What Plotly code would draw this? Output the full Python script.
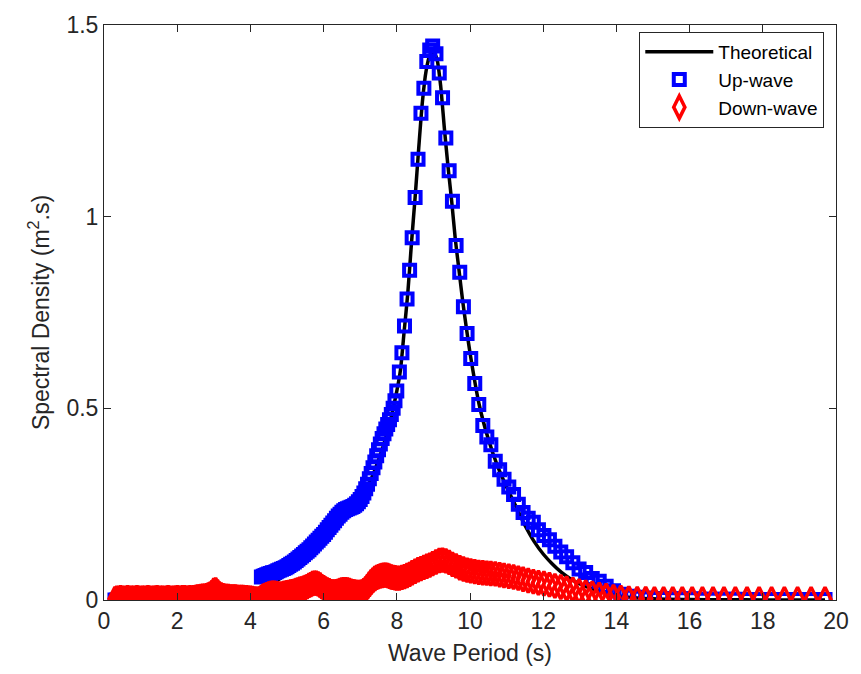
import plotly.graph_objects as go

# Wave period grid (s) shared by the two measured spectra
period_lo = [0.30, 0.35, 0.40, 0.45, 0.50, 0.55, 0.60, 0.65, 0.70, 0.75,
             0.80, 0.85, 0.90, 0.95, 1.00, 1.05, 1.10, 1.15, 1.20, 1.25,
             1.30, 1.35, 1.40, 1.45, 1.50, 1.55, 1.60, 1.65, 1.70, 1.75,
             1.80, 1.85, 1.90, 1.95, 2.00, 2.05, 2.10, 2.15, 2.20, 2.25,
             2.30, 2.35, 2.40, 2.45, 2.50, 2.55, 2.60, 2.65, 2.70, 2.75,
             2.80, 2.85, 2.90, 2.95, 3.00, 3.05, 3.10, 3.15, 3.20, 3.25,
             3.30, 3.35, 3.40, 3.45, 3.50, 3.55, 3.60, 3.65, 3.70, 3.75,
             3.80, 3.85, 3.90, 3.95, 4.00, 4.05, 4.10, 4.15, 4.20, 4.25,
             4.30, 4.35, 4.40, 4.45, 4.50, 4.55, 4.60, 4.65, 4.70, 4.75,
             4.80, 4.85, 4.90, 4.95, 5.00, 5.05, 5.10, 5.15, 5.20, 5.25,
             5.30, 5.35, 5.40, 5.45, 5.50, 5.55, 5.60, 5.65, 5.70, 5.75,
             5.80, 5.85, 5.90, 5.95, 6.00, 6.05, 6.10, 6.15, 6.20, 6.25,
             6.30, 6.35, 6.40, 6.45, 6.50, 6.55, 6.60, 6.65, 6.70, 6.75,
             6.80, 6.85, 6.90, 6.95, 7.00, 7.05, 7.10, 7.15, 7.20, 7.25,
             7.30, 7.35, 7.40, 7.45, 7.50, 7.55, 7.60, 7.65, 7.70, 7.75,
             7.80, 7.85, 7.90, 7.95]
period_hi = [8.00, 8.07, 8.14, 8.21, 8.28, 8.35, 8.42, 8.50, 8.58, 8.66,
             8.74, 8.82, 8.90, 8.98, 9.07, 9.16, 9.25, 9.34, 9.43, 9.52,
             9.62, 9.72, 9.82, 9.92, 10.02, 10.13, 10.24, 10.35, 10.46, 10.57,
             10.69, 10.81, 10.93, 11.06, 11.19, 11.32, 11.45, 11.59, 11.73, 11.87,
             12.02, 12.17, 12.32, 12.48, 12.64, 12.81, 12.98, 13.16, 13.34, 13.53,
             13.72, 13.92, 14.12, 14.34, 14.57, 14.80, 15.04, 15.29, 15.54, 15.80,
             16.07, 16.35, 16.64, 16.94, 17.25, 17.57, 17.90, 18.24, 18.59, 18.95,
             19.32, 19.70]

# Up-wave spectral density (m^2.s)
up_lo = [0.0, 0.0, 0.0, 0.0, 0.0, 0.0, 0.0, 0.0, 0.0, 0.0,
         0.0, 0.0, 0.0, 0.0, 0.0, 0.0, 0.0, 0.0, 0.0, 0.0,
         0.0, 0.0, 0.0, 0.0, 0.0, 0.0, 0.0, 0.0, 0.0, 0.0,
         0.0, 0.0, 0.0, 0.0, 0.0, 0.0, 0.0, 0.0, 0.0, 0.0,
         0.0, 0.0, 0.0, 0.0, 0.0, 0.0, 0.0, 0.0, 0.0, 0.0,
         0.0, 0.0, 0.0, 0.0, 0.0, 0.0, 0.0, 0.0, 0.0, 0.0,
         0.0, 0.0, 0.0, 0.0, 0.0, 0.0, 0.0, 0.0, 0.0, 0.0,
         0.0, 0.0, 0.0, 0.0, 0.0, 0.0, 0.0, 0.0, 0.0, 0.0,
         0.060, 0.062, 0.064, 0.066, 0.068, 0.069, 0.071, 0.072, 0.074, 0.076,
         0.078, 0.080, 0.082, 0.084, 0.087, 0.090, 0.093, 0.096, 0.099, 0.103,
         0.107, 0.111, 0.115, 0.119, 0.123, 0.127, 0.131, 0.136, 0.141, 0.146,
         0.151, 0.156, 0.161, 0.166, 0.171, 0.177, 0.183, 0.189, 0.195, 0.201,
         0.207, 0.213, 0.219, 0.224, 0.229, 0.233, 0.236, 0.238, 0.240, 0.242,
         0.244, 0.247, 0.251, 0.256, 0.262, 0.270, 0.279, 0.290, 0.302, 0.316,
         0.330, 0.345, 0.360, 0.376, 0.392, 0.407, 0.421, 0.434, 0.446, 0.458,
         0.470, 0.484, 0.500, 0.520]
up_hi = [0.545, 0.595, 0.645, 0.715, 0.785, 0.860, 0.945, 1.050, 1.150, 1.270,
         1.335, 1.405, 1.435, 1.445, 1.425, 1.375, 1.310, 1.205, 1.120, 1.040,
         0.925, 0.855, 0.765, 0.695, 0.630, 0.565, 0.510, 0.455, 0.425, 0.405,
         0.362, 0.340, 0.315, 0.295, 0.275, 0.250, 0.228, 0.213, 0.203, 0.183,
         0.168, 0.157, 0.140, 0.125, 0.113, 0.097, 0.081, 0.072, 0.056, 0.049,
         0.036, 0.024, 0.015, 0.010, 0.007, 0.005, 0.004, 0.004, 0.003, 0.003,
         0.003, 0.002, 0.002, 0.002, 0.002, 0.001, 0.001, 0.001, 0.001, 0.001,
         0.001, 0.001]

# Down-wave spectral density (m^2.s)
down_lo = [0.003, 0.005, 0.004, 0.006, 0.005, 0.004, 0.005, 0.006, 0.004, 0.005,
           0.005, 0.004, 0.006, 0.005, 0.004, 0.005, 0.005, 0.004, 0.006, 0.005,
           0.004, 0.005, 0.005, 0.006, 0.004, 0.005, 0.005, 0.004, 0.005, 0.006,
           0.005, 0.004, 0.005, 0.005, 0.006, 0.005, 0.005, 0.006, 0.006, 0.005,
           0.005, 0.006, 0.005, 0.006, 0.007, 0.008, 0.008, 0.009, 0.010, 0.010,
           0.011, 0.013, 0.015, 0.019, 0.025, 0.026, 0.021, 0.016, 0.013, 0.011,
           0.010, 0.009, 0.009, 0.008, 0.008, 0.008, 0.008, 0.007, 0.007, 0.007,
           0.007, 0.006, 0.006, 0.005, 0.005, 0.004, 0.003, 0.002, 0.002, 0.003,
           0.007, 0.010, 0.012, 0.014, 0.016, 0.017, 0.018, 0.018, 0.017, 0.016,
           0.015, 0.015, 0.017, 0.018, 0.019, 0.020, 0.021, 0.022, 0.023, 0.025,
           0.026, 0.028, 0.029, 0.031, 0.033, 0.035, 0.038, 0.040, 0.043, 0.044,
           0.044, 0.042, 0.039, 0.035, 0.032, 0.029, 0.026, 0.024, 0.022, 0.021,
           0.021, 0.022, 0.023, 0.025, 0.026, 0.027, 0.027, 0.026, 0.025, 0.023,
           0.022, 0.021, 0.020, 0.020, 0.020, 0.021, 0.024, 0.029, 0.035, 0.041,
           0.047, 0.052, 0.056, 0.059, 0.061, 0.063, 0.064, 0.065, 0.065, 0.064,
           0.062, 0.060, 0.059, 0.058]
down_hi = [0.057, 0.057, 0.059, 0.061, 0.064, 0.067, 0.071, 0.075, 0.079, 0.082,
           0.085, 0.088, 0.091, 0.095, 0.099, 0.103, 0.104, 0.102, 0.098, 0.093,
           0.089, 0.084, 0.081, 0.078, 0.076, 0.074, 0.072, 0.071, 0.070, 0.069,
           0.068, 0.066, 0.064, 0.062, 0.060, 0.057, 0.054, 0.051, 0.048, 0.045,
           0.043, 0.040, 0.037, 0.034, 0.030, 0.027, 0.023, 0.020, 0.017, 0.014,
           0.011, 0.008, 0.006, 0.004, 0.003, 0.003, 0.002, 0.002, 0.002, 0.002,
           0.002, 0.002, 0.002, 0.002, 0.002, 0.002, 0.002, 0.002, 0.002, 0.002,
           0.002, 0.002]

# Theoretical spectrum
period_theory = [0.3, 2.0, 3.0, 3.5, 4.0, 4.5, 5.0, 5.5, 6.0, 6.5,
                 7.0, 7.25, 7.5, 7.75, 8.0, 8.1, 8.2, 8.3, 8.4, 8.5,
                 8.6, 8.7, 8.8, 8.9, 9.0, 9.1, 9.2, 9.3, 9.4, 9.5,
                 9.6, 9.7, 9.8, 9.9, 10.0, 10.25, 10.5, 10.75, 11.0, 11.25,
                 11.5, 11.75, 12.0, 12.25, 12.5, 12.75, 13.0, 13.5, 14.0, 14.5,
                 15.0, 16.0, 17.0, 18.0, 19.0, 19.7]
density_theory = [0.0, 0.0005, 0.002, 0.006, 0.016, 0.038, 0.068, 0.110, 0.160, 0.218,
                  0.265, 0.305, 0.365, 0.440, 0.545, 0.600, 0.700, 0.800, 0.930, 1.050,
                  1.180, 1.300, 1.380, 1.420, 1.430, 1.410, 1.340, 1.230, 1.130, 1.040,
                  0.940, 0.860, 0.780, 0.710, 0.645, 0.510, 0.420, 0.350, 0.295, 0.245,
                  0.195, 0.153, 0.120, 0.094, 0.072, 0.055, 0.042, 0.024, 0.012, 0.006,
                  0.003, 0.001, 0.0005, 0.0003, 0.0002, 0.0001]

period_obs = period_lo + period_hi
density_up = up_lo + up_hi
density_down = down_lo + down_hi
assert len(period_lo) == len(up_lo) == len(down_lo)
assert len(period_hi) == len(up_hi) == len(down_hi)
assert len(period_theory) == len(density_theory)

AXIS_COLOR = "#262626"
FAMILY = "Liberation Sans, Arial, sans-serif"
FONT = dict(family=FAMILY, size=23, color=AXIS_COLOR)

fig = go.Figure()
fig.add_trace(go.Scatter(
    x=period_theory, y=density_theory, mode="lines", name="Theoretical",
    line=dict(color="black", width=3.5, shape="spline", smoothing=0.6),
))
fig.add_trace(go.Scatter(
    x=period_obs, y=density_up, mode="markers", name="Up-wave",
    marker=dict(symbol="square-open", size=11, color="#0000ff",
                line=dict(width=4, color="#0000ff")),
))
fig.add_trace(go.Scatter(
    x=period_obs, y=density_down, mode="markers", name="Down-wave",
    marker=dict(symbol="diamond-tall-open", size=17, color="#ff0000",
                line=dict(width=3.5, color="#ff0000")),
))

axis_common = dict(
    showline=True, linecolor=AXIS_COLOR, linewidth=1, mirror="ticks",
    ticks="inside", ticklen=7, tickcolor=AXIS_COLOR, tickwidth=1,
    showgrid=False, zeroline=False, tickfont=FONT,
)

fig.update_layout(
    width=861, height=674,
    margin=dict(l=104, r=20, t=15, b=73),
    paper_bgcolor="white", plot_bgcolor="white",
    font=FONT,
    showlegend=True,
    legend=dict(
        x=0.984, y=0.988, xanchor="right", yanchor="top",
        bgcolor="white", bordercolor=AXIS_COLOR, borderwidth=1,
        font=dict(family=FAMILY, size=19, color="black"),
        itemwidth=68, tracegroupgap=0,
    ),
    xaxis=dict(
        range=[0, 20], tickvals=[0, 2, 4, 6, 8, 10, 12, 14, 16, 18, 20],
        title=dict(text="Wave Period (s)", font=FONT, standoff=12),
        **axis_common,
    ),
    yaxis=dict(
        range=[0, 1.5], tickvals=[0, 0.5, 1, 1.5], ticktext=["0", "0.5", "1", "1.5"],
        title=dict(text="Spectral Density (m<sup>2</sup>.s)", font=FONT, standoff=10),
        **axis_common,
    ),
)

fig.write_html("out.html")
